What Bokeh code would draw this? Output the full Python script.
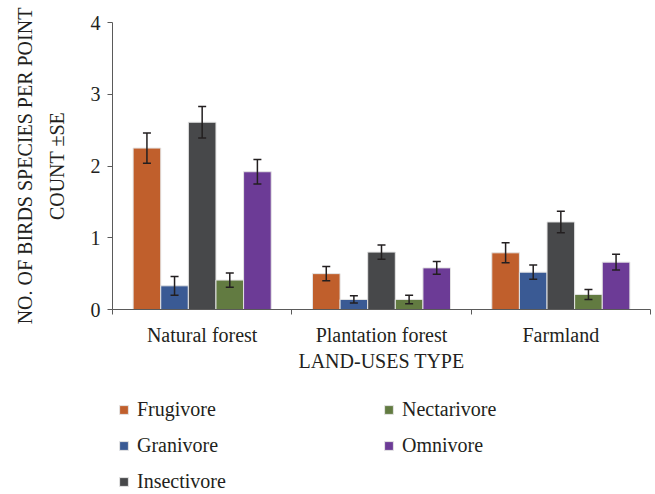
from bokeh.plotting import figure
from bokeh.layouts import column
from bokeh.models import (Range1d, LinearAxis, FixedTicker,
                          Whisker, TeeHead, ColumnDataSource, Legend, LegendItem, Title)
from bokeh.transform import dodge
from bokeh.embed import file_html
from bokeh.resources import INLINE

# ---- data ----
land_uses = ["Natural forest", "Plantation forest", "Farmland"]
guilds = ["Frugivore", "Granivore", "Insectivore", "Nectarivore", "Omnivore"]
frugivore = [2.25, 0.50, 0.79]
frugivore_se = [0.21, 0.10, 0.14]
granivore = [0.33, 0.14, 0.52]
granivore_se = [0.13, 0.05, 0.10]
insectivore = [2.61, 0.80, 1.22]
insectivore_se = [0.22, 0.10, 0.15]
nectarivore = [0.41, 0.14, 0.21]
nectarivore_se = [0.10, 0.06, 0.07]
omnivore = [1.92, 0.58, 0.66]
omnivore_se = [0.17, 0.09, 0.11]
y_ticks = [0, 1, 2, 3, 4]

values = [frugivore, granivore, insectivore, nectarivore, omnivore]
errors = [frugivore_se, granivore_se, insectivore_se, nectarivore_se, omnivore_se]
colors = ["#C05F2C", "#3A5A94", "#47484A", "#627B41", "#6C3B96"]

FONT = "Liberation Serif"
TXT = "#231F20"
AXC = "#5A5A5A"

n = len(land_uses)
centers = [i + 0.5 for i in range(n)]

p = figure(width=655, height=376, x_range=Range1d(0, n), y_range=Range1d(0, 4),
           output_backend="svg", toolbar_location=None, x_axis_location=None,
           min_border_left=112, min_border_right=5, min_border_top=22, min_border_bottom=67)
p.outline_line_color = None
for g in p.grid:
    g.visible = False

# y axis
ya = p.yaxis[0]
ya.ticker = FixedTicker(ticks=y_ticks)
ya.minor_tick_line_color = None
ya.major_tick_out = 5
ya.major_tick_in = 0
ya.axis_line_color = AXC
ya.major_tick_line_color = AXC
ya.major_label_text_font = FONT
ya.major_label_text_font_size = "20px"
ya.major_label_text_color = TXT
ya.major_label_standoff = 7
ya.axis_label = "COUNT ±SE"
ya.axis_label_text_font = FONT
ya.axis_label_text_font_size = "20px"
ya.axis_label_text_font_style = "normal"
ya.axis_label_text_color = TXT
ya.axis_label_standoff = 20

p.add_layout(Title(text="NO. OF BIRDS SPECIES PER POINT", align="center", text_font=FONT,
                   text_font_size="20px", text_font_style="normal", text_color=TXT,
                   standoff=13), "left")

# x axes: boundary ticks + category labels
bnd = LinearAxis(ticker=FixedTicker(ticks=list(range(n + 1))),
                 major_label_overrides={t: "" for t in range(n + 1)},
                 major_label_text_font_size="1px", major_label_standoff=0,
                 major_tick_out=5, major_tick_in=0, minor_tick_line_color=None,
                 axis_line_color=AXC, major_tick_line_color=AXC)
p.add_layout(bnd, "below")
cat = LinearAxis(ticker=FixedTicker(ticks=centers),
                 major_label_overrides={c: name for c, name in zip(centers, land_uses)},
                 axis_line_color=None, major_tick_line_color=None, minor_tick_line_color=None,
                 major_label_standoff=3, major_label_text_font=FONT,
                 major_label_text_font_size="20px", major_label_text_color=TXT,
                 axis_label="LAND-USES TYPE", axis_label_text_font=FONT,
                 axis_label_text_font_size="20px", axis_label_text_font_style="normal",
                 axis_label_text_color=TXT, axis_label_standoff=1)
p.add_layout(cat, "below")

# legend panel (separate figure under the chart; its view range shows no bars)
lp = figure(width=655, height=118, x_range=Range1d(0, n), y_range=Range1d(10, 11),
            output_backend="svg", toolbar_location=None, x_axis_location=None,
            y_axis_location=None, min_border=0)
lp.outline_line_color = None
for g in lp.grid:
    g.visible = False

bw = 0.154
items = []
for i, (g, vals, se) in enumerate(zip(guilds, values, errors)):
    off = (i - 2) * bw
    src = ColumnDataSource(dict(x=centers, top=vals,
                                upper=[v + e for v, e in zip(vals, se)],
                                lower=[v - e for v, e in zip(vals, se)]))
    p.vbar(x=dodge("x", off), top="top", width=bw, source=src,
           fill_color=colors[i], line_color="#E4E4E4", line_width=1)
    w = Whisker(source=src, base=dodge("x", off), upper="upper", lower="lower",
                level="overlay", line_color=TXT, line_width=1.5,
                upper_head=TeeHead(size=8, line_color=TXT, line_width=1.5),
                lower_head=TeeHead(size=8, line_color=TXT, line_width=1.5))
    p.add_layout(w)
    r = lp.vbar(x=dodge("x", off), top="top", width=bw, source=src,
                fill_color=colors[i], line_color="#E4E4E4", line_width=1)
    items.append(LegendItem(label=g, renderers=[r]))

legend = Legend(items=items, ncols=2, orientation="vertical", location=(6, 1),
                glyph_width=11, glyph_height=11, label_standoff=8, label_width=233,
                label_height=22, spacing=13, padding=0, margin=0,
                border_line_color=None, background_fill_alpha=0,
                label_text_font=FONT, label_text_font_size="20px", label_text_color=TXT)
lp.add_layout(legend, "center")

open("out.html", "w").write(file_html(column(p, lp, spacing=0), INLINE))
